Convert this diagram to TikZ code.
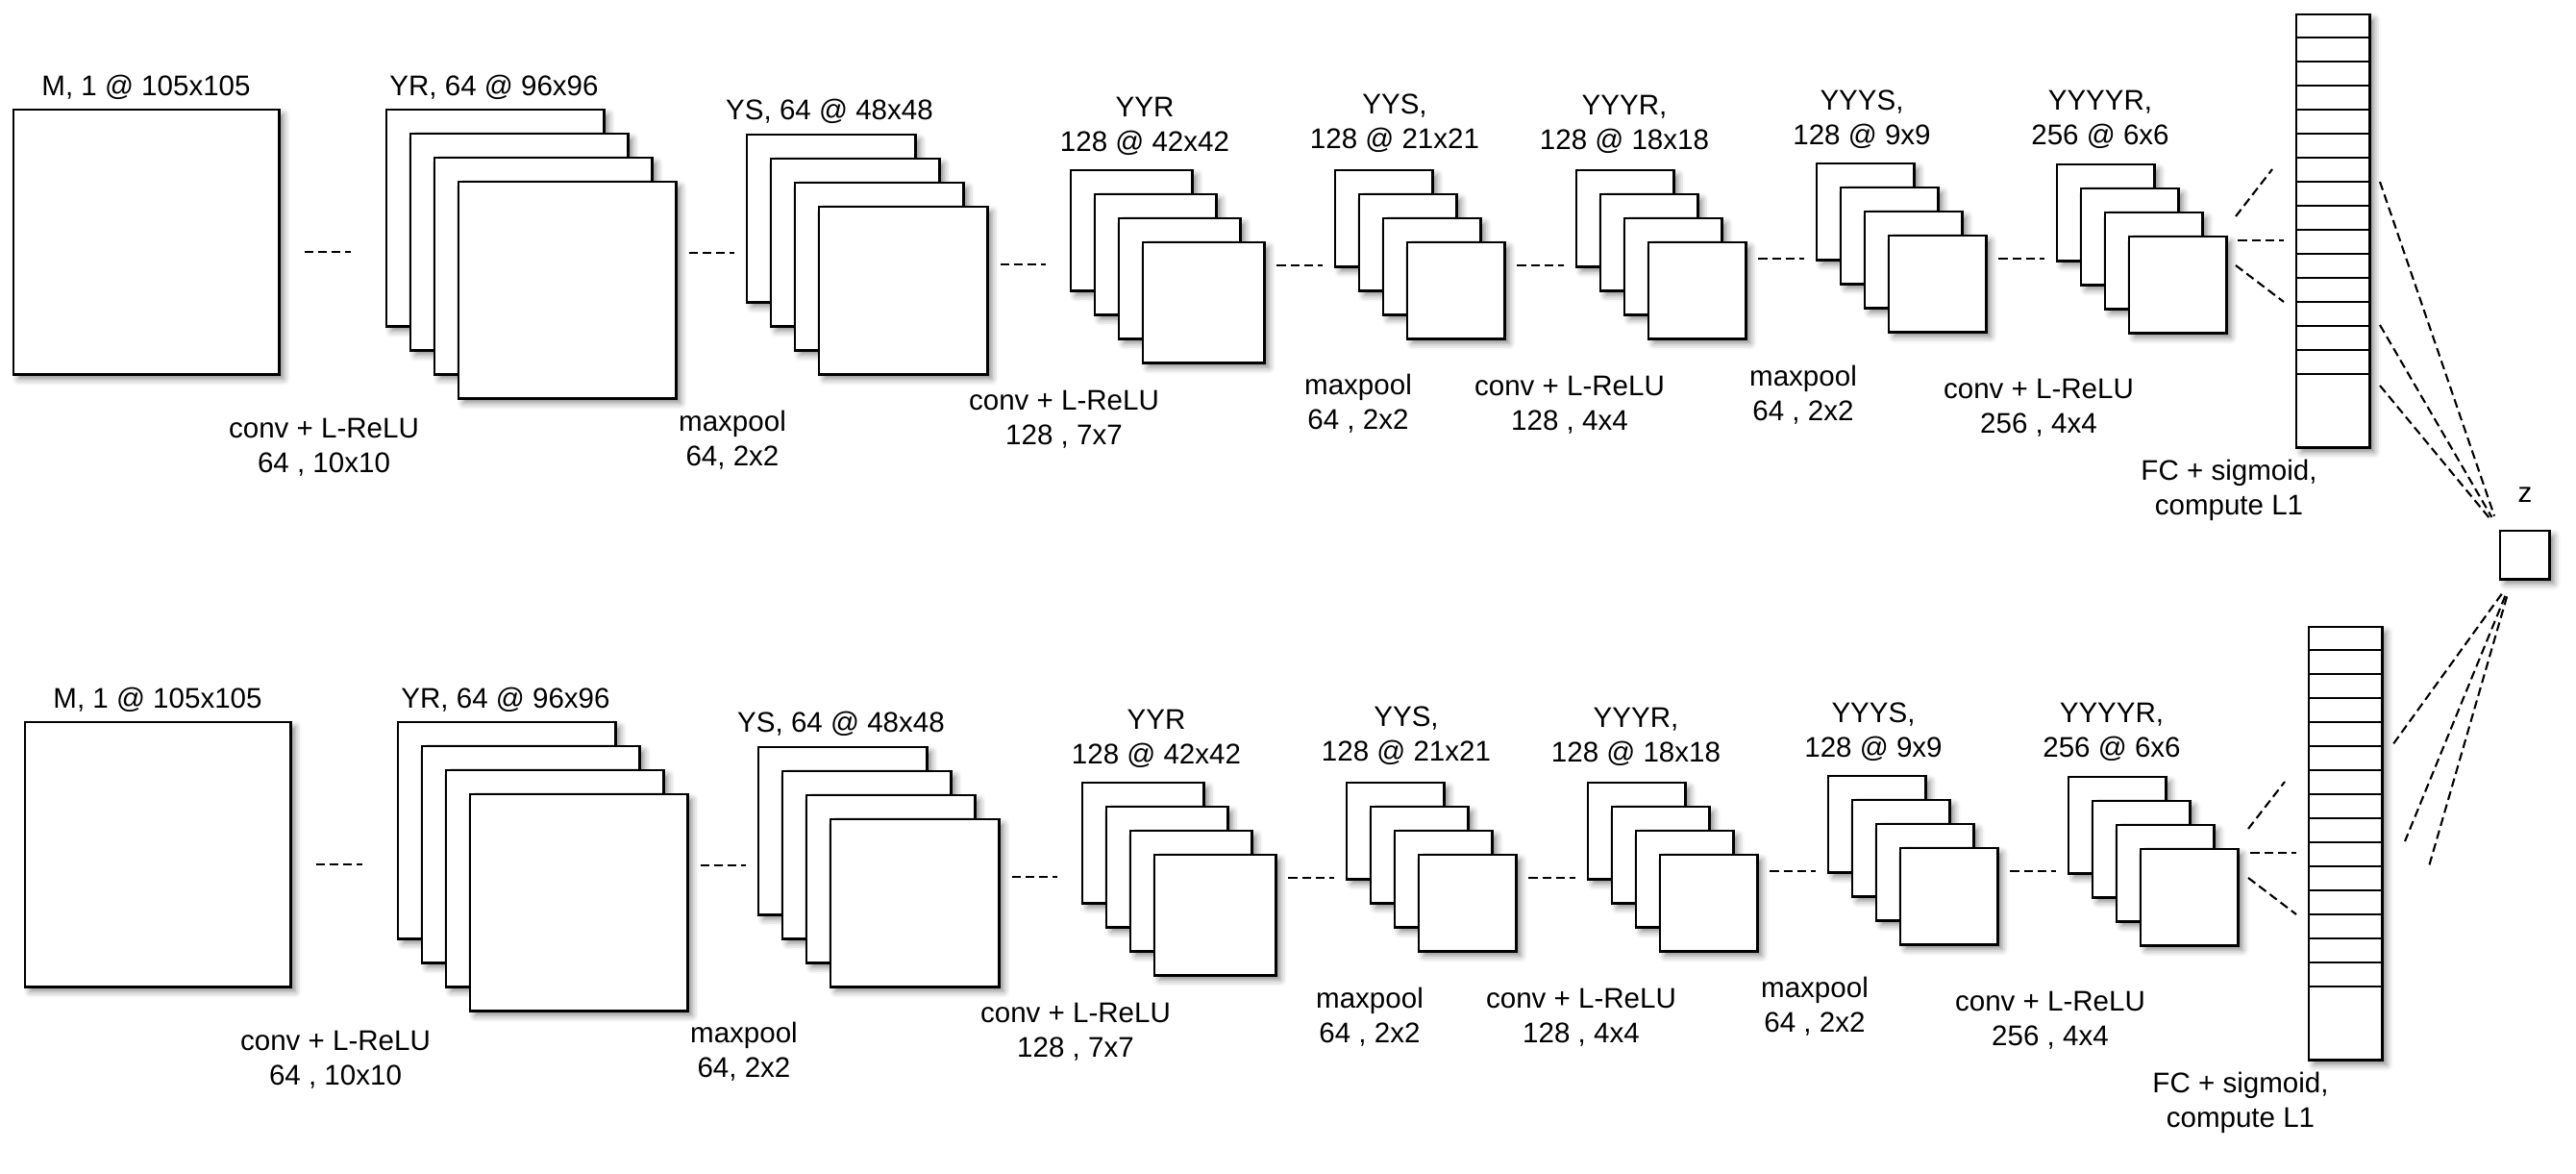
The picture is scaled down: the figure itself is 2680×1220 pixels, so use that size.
\documentclass[tikz,border=0pt]{standalone}
\usepackage{fontspec}
\setmainfont{Liberation Sans}
\usetikzlibrary{shadows.blur}

\begin{document}
\begin{tikzpicture}[x=0.01cm, y=-0.01cm,
  sheet/.style={draw, line width=0.7pt, fill=white, inner sep=0pt, anchor=north west,
    blur shadow={shadow xshift=1.4pt, shadow yshift=-1.4pt, shadow blur radius=1.8pt, shadow opacity=45}},
  mbox/.style={sheet, minimum width=2.76cm, minimum height=2.75cm},
  yrbox/.style={sheet, minimum width=2.26cm, minimum height=2.25cm},
  ysbox/.style={sheet, minimum width=1.75cm, minimum height=1.74cm},
  yyrbox/.style={sheet, minimum width=1.26cm, minimum height=1.25cm},
  smallbox/.style={sheet, minimum width=1.01cm, minimum height=1.0cm},
  fcbox/.style={sheet, minimum width=0.76cm, minimum height=4.5cm},
  zbox/.style={sheet, minimum width=0.51cm, minimum height=0.5cm},
  lbl/.style={font=\fontsize{8.4}{10.2}\selectfont, align=center, inner sep=0pt},
  link/.style={line width=0.6pt, dash pattern=on 2.6pt off 1.4pt},
  gapline/.style={link, shorten <=3.4pt, shorten >=3.4pt}]

\useasboundingbox (0,0) rectangle (2680,1220);

% ---- upper branch ----
\node[mbox] (tm) at (13,113) {};
\node[yrbox] (tyr1) at (401,113) {};
\node[yrbox] (tyr2) at (426,138) {};
\node[yrbox] (tyr3) at (451,163) {};
\node[yrbox] (tyr4) at (476,188) {};
\node[ysbox] (tys1) at (776,139) {};
\node[ysbox] (tys2) at (801,164) {};
\node[ysbox] (tys3) at (826,189) {};
\node[ysbox] (tys4) at (851,214) {};
\node[yyrbox] (tyyr1) at (1113,176) {};
\node[yyrbox] (tyyr2) at (1138,201) {};
\node[yyrbox] (tyyr3) at (1163,226) {};
\node[yyrbox] (tyyr4) at (1188,251) {};
\node[smallbox] (tyys1) at (1388,176) {};
\node[smallbox] (tyys2) at (1413,201) {};
\node[smallbox] (tyys3) at (1438,226) {};
\node[smallbox] (tyys4) at (1463,251) {};
\node[smallbox] (tyyyr1) at (1639,176) {};
\node[smallbox] (tyyyr2) at (1664,201) {};
\node[smallbox] (tyyyr3) at (1689,226) {};
\node[smallbox] (tyyyr4) at (1714,251) {};
\node[smallbox] (tyyys1) at (1889,169) {};
\node[smallbox] (tyyys2) at (1914,194) {};
\node[smallbox] (tyyys3) at (1939,219) {};
\node[smallbox] (tyyys4) at (1964,244) {};
\node[smallbox] (tyyyyr1) at (2139,170) {};
\node[smallbox] (tyyyyr2) at (2164,195) {};
\node[smallbox] (tyyyyr3) at (2189,220) {};
\node[smallbox] (tyyyyr4) at (2214,245) {};
\node[fcbox] (tfc) at (2388,14) {};
\foreach \k in {1,...,15}
  \draw[line width=0.7pt] ([yshift=-\k*0.25cm]tfc.north west) -- ([yshift=-\k*0.25cm]tfc.north east);

\node[lbl] (tlm) at (152,91) {M, 1 @ 105x105};
\node[lbl] (tlyr) at (514,91) {YR, 64 @ 96x96};
\node[lbl] (tlys) at (863,116) {YS, 64 @ 48x48};
\node[lbl] (tlyyr) at (1191,131) {YYR\\128 @ 42x42};
\node[lbl] (tlyys) at (1451,128) {YYS,\\128 @ 21x21};
\node[lbl] (tlyyyr) at (1690,129) {YYYR,\\128 @ 18x18};
\node[lbl] (tlyyys) at (1937,124) {YYYS,\\128 @ 9x9};
\node[lbl] (tlyyyyr) at (2185,124) {YYYYR,\\256 @ 6x6};
\node[lbl] (tc1) at (337,465) {conv + L-ReLU\\64 , 10x10};
\node[lbl] (tp1) at (762,458) {maxpool\\64, 2x2};
\node[lbl] (tc2) at (1107,436) {conv + L-ReLU\\128 , 7x7};
\node[lbl] (tp2) at (1413,420) {maxpool\\64 , 2x2};
\node[lbl] (tc3) at (1633,421) {conv + L-ReLU\\128 , 4x4};
\node[lbl] (tp3) at (1876,411) {maxpool\\64 , 2x2};
\node[lbl] (tc4) at (2121,424) {conv + L-ReLU\\256 , 4x4};
\node[lbl] (tlfc) at (2319,510) {FC + sigmoid,\\compute L1};

\draw[gapline, shorten <=7.1pt, shorten >=10.2pt] (tm.east |- 0,262) -- (tyr1.west |- 0,262);
\draw[gapline] (tyr4.east |- 0,263) -- (tys1.west |- 0,263);
\draw[gapline, shorten >=7.1pt] (tys4.east |- 0,275) -- (tyyr1.west |- 0,275);
\draw[gapline] (tyyr4.east |- 0,276) -- (tyys1.west |- 0,276);
\draw[gapline] (tyys4.east |- 0,276) -- (tyyyr1.west |- 0,276);
\draw[gapline] (tyyyr4.east |- 0,269) -- (tyyys1.west |- 0,269);
\draw[gapline] (tyyys4.east |- 0,269) -- (tyyyyr1.west |- 0,269);

% fan into the FC layer
\coordinate (tf1) at (2326,225);
\coordinate (tf1e) at (2364,176);
\coordinate (tf3) at (2326,276);
\coordinate (tf3e) at (2376,314);
\draw[link] (tf1) -- (tf1e);
\draw[gapline, shorten <=3.1pt] (tyyyyr4.east |- 0,250) -- (tfc.west |- 0,250);
\draw[link] (tf3) -- (tf3e);

% ---- distance z ----
\node[zbox] (z) at (2600,551) {};
\node[lbl] (zl) at (2627,515) {z};

\coordinate (tz1) at (2476,189);
\coordinate (tz2) at (2476,338);
\coordinate (tz3) at (2476,401);
\draw[link, shorten >=4.3pt] (tz1) -- (z.north west);
\draw[link, shorten >=4.3pt] (tz2) -- (z.north west);
\draw[link, shorten >=4.3pt] (tz3) -- (z.north west);

% ---- lower branch ----
\node[mbox] (bm) at (25,750) {};
\node[yrbox] (byr1) at (413,750) {};
\node[yrbox] (byr2) at (438,775) {};
\node[yrbox] (byr3) at (463,800) {};
\node[yrbox] (byr4) at (488,825) {};
\node[ysbox] (bys1) at (788,776) {};
\node[ysbox] (bys2) at (813,801) {};
\node[ysbox] (bys3) at (838,826) {};
\node[ysbox] (bys4) at (863,851) {};
\node[yyrbox] (byyr1) at (1125,813) {};
\node[yyrbox] (byyr2) at (1150,838) {};
\node[yyrbox] (byyr3) at (1175,863) {};
\node[yyrbox] (byyr4) at (1200,888) {};
\node[smallbox] (byys1) at (1400,813) {};
\node[smallbox] (byys2) at (1425,838) {};
\node[smallbox] (byys3) at (1450,863) {};
\node[smallbox] (byys4) at (1475,888) {};
\node[smallbox] (byyyr1) at (1651,813) {};
\node[smallbox] (byyyr2) at (1676,838) {};
\node[smallbox] (byyyr3) at (1701,863) {};
\node[smallbox] (byyyr4) at (1726,888) {};
\node[smallbox] (byyys1) at (1901,806) {};
\node[smallbox] (byyys2) at (1926,831) {};
\node[smallbox] (byyys3) at (1951,856) {};
\node[smallbox] (byyys4) at (1976,881) {};
\node[smallbox] (byyyyr1) at (2151,807) {};
\node[smallbox] (byyyyr2) at (2176,832) {};
\node[smallbox] (byyyyr3) at (2201,857) {};
\node[smallbox] (byyyyr4) at (2226,882) {};
\node[fcbox] (bfc) at (2401,651) {};
\foreach \k in {1,...,15}
  \draw[line width=0.7pt] ([yshift=-\k*0.25cm]bfc.north west) -- ([yshift=-\k*0.25cm]bfc.north east);

\node[lbl] (blm) at (164,728) {M, 1 @ 105x105};
\node[lbl] (blyr) at (526,728) {YR, 64 @ 96x96};
\node[lbl] (blys) at (875,753) {YS, 64 @ 48x48};
\node[lbl] (blyyr) at (1203,768) {YYR\\128 @ 42x42};
\node[lbl] (blyys) at (1463,765) {YYS,\\128 @ 21x21};
\node[lbl] (blyyyr) at (1702,766) {YYYR,\\128 @ 18x18};
\node[lbl] (blyyys) at (1949,761) {YYYS,\\128 @ 9x9};
\node[lbl] (blyyyyr) at (2197,761) {YYYYR,\\256 @ 6x6};
\node[lbl] (bc1) at (349,1102) {conv + L-ReLU\\64 , 10x10};
\node[lbl] (bp1) at (774,1094) {maxpool\\64, 2x2};
\node[lbl] (bc2) at (1119,1073) {conv + L-ReLU\\128 , 7x7};
\node[lbl] (bp2) at (1425,1058) {maxpool\\64 , 2x2};
\node[lbl] (bc3) at (1645,1058) {conv + L-ReLU\\128 , 4x4};
\node[lbl] (bp3) at (1888,1047) {maxpool\\64 , 2x2};
\node[lbl] (bc4) at (2133,1061) {conv + L-ReLU\\256 , 4x4};
\node[lbl] (blfc) at (2331,1147) {FC + sigmoid,\\compute L1};

\draw[gapline, shorten <=7.1pt, shorten >=10.2pt] (bm.east |- 0,899) -- (byr1.west |- 0,899);
\draw[gapline] (byr4.east |- 0,900) -- (bys1.west |- 0,900);
\draw[gapline, shorten >=7.1pt] (bys4.east |- 0,912) -- (byyr1.west |- 0,912);
\draw[gapline] (byyr4.east |- 0,913) -- (byys1.west |- 0,913);
\draw[gapline] (byys4.east |- 0,913) -- (byyyr1.west |- 0,913);
\draw[gapline] (byyyr4.east |- 0,906) -- (byyys1.west |- 0,906);
\draw[gapline] (byyys4.east |- 0,906) -- (byyyyr1.west |- 0,906);

% fan into the FC layer
\coordinate (bf1) at (2339,862);
\coordinate (bf1e) at (2377,813);
\coordinate (bf3) at (2339,913);
\coordinate (bf3e) at (2389,951);
\draw[link] (bf1) -- (bf1e);
\draw[gapline] (byyyyr4.east |- 0,887) -- (bfc.west |- 0,887);
\draw[link] (bf3) -- (bf3e);

% lines from z down to the lower FC layer
\coordinate (bz1) at (2489,775);
\coordinate (bz2) at (2502,875);
\coordinate (bz3) at (2527,901);
\draw[link, shorten <=5pt] ([xshift=3.7pt]z.south west) -- (bz1);
\draw[link, shorten <=5pt] ([xshift=3.7pt]z.south west) -- (bz2);
\draw[link, shorten <=5pt] ([xshift=3.7pt]z.south west) -- (bz3);
\end{tikzpicture}
\end{document}
